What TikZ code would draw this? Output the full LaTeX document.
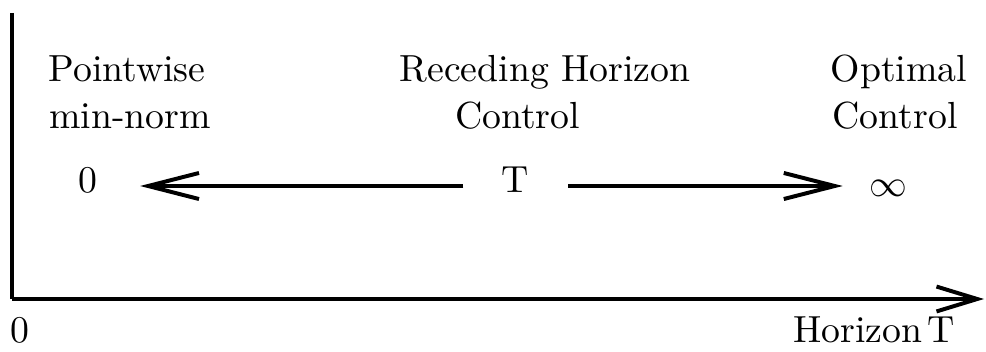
\documentclass[tikz,border=0pt]{standalone}
\usetikzlibrary{arrows.meta}
\newcommand\mytightsp{\spaceskip=1.3pt\relax}
\begin{document}
\begin{tikzpicture}[x=0.265pt,y=-0.265pt,
  lbl/.style={inner sep=0pt,anchor=base},
  axisline/.style={line width=1.05pt,-{Straight Barb[length=10.8pt,width=6.6pt,line width=1.05pt]}},
  barrow/.style={line width=1.05pt,-{Straight Barb[length=13.5pt,width=6.9pt,line width=1.05pt]}}]
\useasboundingbox (0,0) rectangle (986,352);
% axes
\coordinate (top) at (12,13);
\coordinate (orig) at (12,299);
\coordinate (xend) at (984,299);
\draw[line width=1.05pt] (top) -- (orig);
\draw[axisline] (orig) -- (xend);
% labels
\node[lbl] (pw) at (127,82) {Pointwise};
\node[lbl] (mn) at (130,128) {min-norm};
\node[lbl] (zero) at (88,193) {0};
\node[lbl] (rh) at (545,82) {Receding Horizon};
\node[lbl] (rc) at (517.5,128) {Control};
\node[lbl] (T) at (515.5,193) {T};
\node[lbl] (op) at (899,82) {Optimal};
\node[lbl] (oc) at (895,128) {Control};
\node[inner sep=0pt] (inf) at (888,188) {$\infty$};
\node[lbl] (z0) at (20,342) {0};
\node[lbl,font=\mytightsp] (hz) at (874,342) {Horizon T};
% arrows
\coordinate (Tc) at (515.5,186);
\coordinate (zc) at (88,186);
\coordinate (ic) at (888,186);
\draw[barrow,shorten <=13.8pt,shorten >=13.8pt] (Tc) -- (zc);
\draw[barrow,shorten <=14pt,shorten >=12pt] (Tc) -- (ic);
\end{tikzpicture}
\end{document}
